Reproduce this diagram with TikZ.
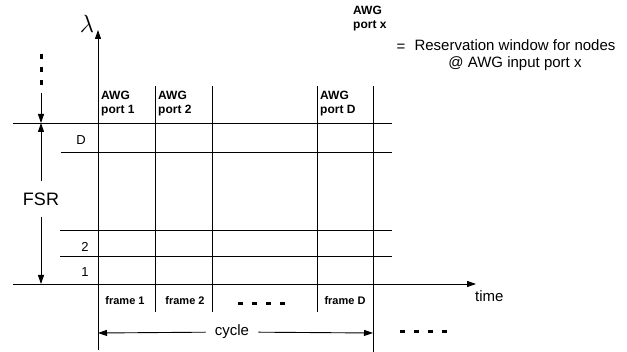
\documentclass[tikz,border=0pt]{standalone}
\usepackage{fontspec}
\setmainfont{Liberation Sans}
\usetikzlibrary{arrows.meta,positioning}

\begin{document}
\begin{tikzpicture}[x=1pt, y=-1pt,
  grid/.style={line width=0.9pt},
  arrow/.style={-{Triangle[length=9pt,width=6pt]}, line width=0.9pt},
  port/.style={font=\bfseries\fontsize{12}{14}\selectfont, align=left,
               anchor=west, inner sep=0pt},
  frame/.style={font=\bfseries\fontsize{11}{12}\selectfont, inner sep=0pt},
  label/.style={font=\fontsize{13}{14}\selectfont, inner sep=0pt},
  big/.style={font=\fontsize{15}{17}\selectfont, inner sep=0pt},
  ellipsis/.style={line width=3pt, dash pattern=on 5pt off 9pt},
]
\useasboundingbox (0,0) rectangle (627,352);

% axes
\coordinate (lbot) at (98,350);
\coordinate (ltop) at (98,30);
\coordinate (tstart) at (13,284);
\coordinate (tend) at (476,284);
\draw[arrow] (lbot) -- (ltop);
\draw[arrow] (tstart) -- (tend);
\node[font=\fontsize{25}{28}\selectfont, inner sep=0pt] (lam) at (87,24) {$\lambda$};
\node[font=\fontsize{15}{17}\selectfont, anchor=west, inner sep=0pt] (tlabel) at (475,296) {time};

% wavelength rows and frame columns
\foreach \y/\xs in {123/13, 152/61, 230/60, 256/60}
  \draw[grid] (\xs,\y) -- (392,\y);
\foreach \x in {155,212,317}
  \draw[grid] (\x,86) -- (\x,312);
\draw[grid] (373,86) -- (373,352);

\node[port] (p1) at (101,104) {AWG\\port 1};
\node[port] (p2) at (158,104) {AWG\\port 2};
\node[port] (pD) at (320,104) {AWG\\port D};

\node[label] (rD) at (81,140) {D};
\node[label] (r2) at (85,247) {2};
\node[label] (r1) at (85,272) {1};

\node[frame] (f1) at (125,301) {frame 1};
\node[frame] (f2) at (185,301) {frame 2};
\node[frame] (fD) at (345,301) {frame D};
\draw[ellipsis] (238,304) -- (290,304);

% free spectral range
\coordinate (fsrtop) at (41,123);
\coordinate (fsrbot) at (41,284);
\node[font=\fontsize{18}{20}\selectfont, inner xsep=0pt, inner ysep=11pt] (fsr) at (41,199) {FSR};
\draw[arrow] (fsr) -- (fsrtop);
\draw[arrow] (fsr) -- (fsrbot);
\draw[ellipsis, dash pattern=on 5pt off 8pt] (41,54) -- (41,88);
\draw[arrow] (41,93) -- (fsrtop);

% cycle
\coordinate (cL) at (98,333);
\coordinate (cR) at (373,333);
\node[big, fill=white, inner xsep=9pt, inner ysep=2pt] (cyc) at (232,332) {cycle};
\draw[arrow] (cyc) -- (cL);
\draw[arrow] (cyc) -- (cR);
\draw[ellipsis] (400,332) -- (450,332);

% legend
\node[port] (px) at (353,19) {AWG\\port x};
\node[big] (eq) at (401,48) {=};
\node[big, align=center] (resv) at (515,55) {Reservation window for nodes\\@ AWG input port x};
\end{tikzpicture}
\end{document}
